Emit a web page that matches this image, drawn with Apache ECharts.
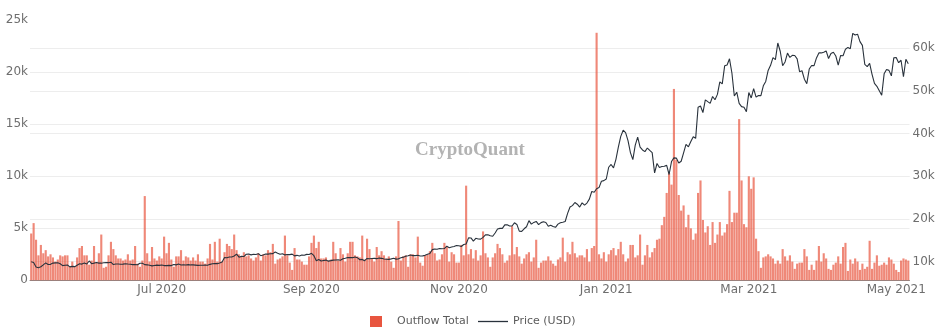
<!DOCTYPE html>
<html>
<head>
<meta charset="utf-8">
<script src="https://cdn.jsdelivr.net/npm/echarts@6/dist/echarts.min.js"></script>
<style>
  html, body { margin: 0; padding: 0; background: #ffffff; }
  #chart { width: 940px; height: 336px; }
</style>
</head>
<body>
<div id="chart"></div>
<script>
// Daily exchange outflow (thousands of BTC) and BTC price, 2020-05-08 .. 2021-05-06
const firstDay = [2020, 4, 8];   // year, month index, day
const dayCount = 364;

const tickDates  = ['2020-07-01', '2020-09-01', '2020-11-01', '2021-01-01', '2021-03-01', '2021-05-01'];
const tickLabels = ['Jul 2020', 'Sep 2020', 'Nov 2020', 'Jan 2021', 'Mar 2021', 'May 2021'];

// Outflow Total, in thousands
const outflowK = [
  // May 8 - Aug 6 2020
  4.5,5.5,3.9,2.4,3.4,2.6,2.9,2.3,2.5,2.2,
  1.8,2.0,2.4,2.3,2.4,2.4,1.3,1.8,1.3,2.2,
  3.1,3.3,2.4,2.4,1.5,1.9,3.3,1.7,2.6,4.4,
  1.2,1.3,2.4,3.7,3.0,2.4,2.1,2.1,1.9,2.0,
  2.5,1.9,2.0,3.3,1.6,1.3,1.9,8.1,2.6,1.8,
  3.2,2.1,1.9,2.3,2.1,4.2,2.6,3.6,2.0,1.3,
  2.3,2.3,2.9,1.9,2.3,2.2,1.9,2.2,1.9,2.5,
  1.8,1.8,1.6,2.1,3.5,2.0,3.7,1.8,4.0,1.8,
  2.7,3.5,3.3,3.0,4.4,2.9,2.5,2.3,2.7,2.3,
  2.4,
  // Aug 7 - Nov 4 2020
  2.1,1.9,2.2,2.6,1.9,2.5,2.4,2.9,2.7,3.5,
  1.6,2.0,2.1,2.3,4.3,2.4,1.7,1.0,3.1,2.0,
  2.0,1.8,1.5,1.5,2.3,3.6,4.3,3.1,3.7,2.1,
  2.1,2.2,1.9,2.0,3.7,2.6,1.9,3.1,2.5,1.8,
  2.6,3.7,3.7,2.4,2.3,2.2,4.3,2.0,4.0,3.0,
  2.1,1.8,3.2,2.4,2.8,2.4,2.1,2.3,1.8,1.2,
  2.3,5.7,1.9,2.3,2.4,1.3,2.5,2.5,2.2,4.2,
  1.7,1.4,2.4,2.5,2.8,3.6,2.6,1.9,2.0,2.5,
  3.6,3.2,1.8,2.7,2.5,1.7,1.7,3.4,2.4,
  9.1,
  // Nov 5 - Dec 28 2020
  2.5,3.0,2.1,2.9,1.9,2.4,4.7,2.6,2.2,1.3,
  2.2,2.6,3.5,3.1,2.5,1.7,1.9,2.4,5.2,2.5,
  3.2,2.3,1.6,2.1,2.5,2.7,1.8,2.2,3.9,1.2,
  1.7,1.9,1.9,2.3,1.9,1.6,1.4,2.0,2.2,4.1,
  1.8,2.7,2.5,3.7,2.6,2.2,2.4,2.4,2.2,3.0,
  1.8,3.1,3.3,
  23.8,
  // Dec 29 2020 - Feb 3 2021
  2.5,2.1,2.7,1.8,2.5,2.9,3.1,2.4,3.0,3.7,
  2.5,1.8,2.1,3.4,3.4,2.2,2.4,4.4,1.5,2.4,
  3.4,2.2,2.7,3.1,3.9,4.0,5.3,6.1,8.4,10.3,
  9.2,
  18.4,
  11.6,8.2,6.7,7.2,5.1,
  // Feb 4 - May 6 2021
  6.3,5.0,3.9,4.5,8.4,9.6,5.8,4.6,5.2,3.4,
  5.6,3.6,4.4,5.6,4.3,4.6,5.4,8.6,5.6,6.5,
  6.5,15.5,9.6,5.4,5.1,10.0,8.8,9.9,4.0,2.8,
  1.2,2.2,2.3,2.5,2.3,2.1,1.6,1.9,1.6,3.0,
  2.3,1.9,2.4,1.8,1.1,1.6,1.7,1.7,3.0,2.3,
  1.0,1.5,1.0,1.9,3.3,1.8,2.6,2.1,1.1,1.0,
  1.5,1.7,2.3,1.6,3.2,3.6,0.9,2.0,1.6,2.1,
  1.8,1.0,1.6,1.1,1.3,3.8,1.1,1.7,2.4,1.4,
  1.5,1.7,1.5,2.2,2.0,1.6,1.0,0.8,1.9,2.1,
  2.0,1.9
];

// Price (USD), daily
const priceUsd = [
  // May 2020 (from the 8th)
  9986,9805,8757,8601,8804,9269,9734,9329,9378,9671,9727,9730,9523,9081,9182,9210,8790,8907,8835,9181,9525,9439,9700,9461,
  // Jun 2020
  10167,9529,9657,9800,9665,9653,9759,9772,9770,9877,9322,9474,9465,9385,9427,9524,9463,9406,9319,9359,9300,9649,9629,9314,9264,9163,9014,9117,9185,9137,
  // Jul 2020
  9228,9087,9070,9132,9087,9347,9257,9436,9232,9289,9235,9303,9243,9244,9190,9132,9151,9160,9185,9164,9375,9525,9581,9536,9677,9905,10990,10912,11100,11112,11323,
  // Aug 2020
  11759,11054,11246,11205,11747,11779,11601,11754,11675,11878,11410,11584,11784,11768,11865,11892,12254,11991,11758,11878,11592,11681,11664,11774,11366,11488,11323,11542,11507,11711,11680,
  // Sep 2020
  11970,11414,10245,10511,10169,10281,10370,10131,10242,10363,10400,10443,10323,10680,10796,10974,10948,10944,11094,10938,10462,10538,10246,10760,10692,10750,10776,10709,10844,10784,
  // Oct 2020
  10620,10570,10542,10666,10793,10604,10668,10916,11064,11296,11384,11555,11426,11430,11505,11323,11359,11483,11742,11917,12823,12965,12931,13108,13031,13075,13654,13271,13438,13546,13781,
  // Nov 2020
  13737,13550,14028,14133,15579,15565,14833,15479,15332,15290,15701,16276,16317,16069,15955,16716,17645,17804,17817,18621,18642,18370,18364,19107,18732,17150,17108,17717,18177,19625,
  // Dec 2020
  18802,19201,19445,18699,19154,19345,19191,18321,18553,18264,18058,18803,19142,19246,19417,21310,22805,23137,23869,23477,22803,23783,23241,23735,24664,26437,26272,27084,27362,28840,29001,
  // Jan 2021
  29374,32127,32782,31971,33992,36824,39371,40797,40254,38356,35566,33922,37316,39187,36825,36178,35791,36630,36069,35547,30825,33005,32067,32289,32366,32569,30432,33466,34316,34269,33114,
  // Feb 2021
  33537,35510,37472,36926,38144,39266,38903,46196,46481,44918,47909,47504,47105,48717,47945,49199,52149,51679,55888,56099,57539,54207,48824,49705,47093,46339,46188,45137,
  // Mar 2021
  49631,48378,50538,48561,48927,48913,51206,52246,54824,56008,57805,57332,61243,59302,55907,56804,58870,57858,58346,58313,57523,54529,54738,52775,51705,55137,55974,55948,57750,58918,58918,
  // Apr 2021
  59095,59384,57603,58759,59057,58192,56048,58323,58245,59793,60204,59893,63504,63109,63315,61572,60683,56216,55724,56473,53906,51762,51093,50050,49004,54021,55033,54824,53555,57750,
  // May 2021 (to the 6th)
  57828,56631,57200,53333,57424,56396
];

// one category per day
const dates = [];
for (let i = 0; i < dayCount; i++) {
  const d = new Date(Date.UTC(firstDay[0], firstDay[1], firstDay[2] + i));
  dates.push(d.toISOString().slice(0, 10));
}

const FONT = 'DejaVu Sans';
const labelColor = '#6e6e6e';
const gridColor = '#ededed';
const barColor = '#e8553f';
const lineColor = '#29323c';

const chart = echarts.init(document.getElementById('chart'), null, { renderer: 'canvas' });

chart.setOption({
  animation: false,
  backgroundColor: '#ffffff',
  grid: { left: 30, right: 30.5, top: 20.3, bottom: 55.7, containLabel: false },
  graphic: [{
    type: 'text',
    left: 415,
    top: 141,
    z: 0,
    style: {
      text: 'CryptoQuant',
      font: 'bold 19px "Liberation Serif"',
      fill: '#b3b3b3'
    }
  }],
  legend: [
    {
      data: [{ name: 'Outflow Total', icon: 'rect', itemStyle: { color: barColor, opacity: 1 } }],
      left: 370, top: 316, padding: 0,
      itemWidth: 12, itemHeight: 11,
      textStyle: { color: '#5b5b5b', fontSize: 11, fontFamily: FONT, padding: [0, 0, 0, 10] }
    },
    {
      data: [{ name: 'Price (USD)', icon: 'rect', itemStyle: { color: lineColor } }],
      left: 478, top: 316, padding: 0,
      itemWidth: 30, itemHeight: 1.3,
      textStyle: { color: '#5b5b5b', fontSize: 11, fontFamily: FONT }
    }
  ],
  xAxis: {
    type: 'category',
    data: dates,
    boundaryGap: true,
    axisTick: { show: false },
    axisLine: { show: true, lineStyle: { color: '#8a8a8a', width: 1 } },
    splitLine: { show: false },
    axisLabel: {
      interval: (idx, val) => tickDates.includes(val),
      formatter: (val) => tickLabels[tickDates.indexOf(val)],
      color: labelColor, fontSize: 12, fontFamily: FONT, margin: 4
    }
  },
  yAxis: [
    {
      type: 'value',
      min: 0, max: 25, interval: 5,
      position: 'left',
      axisLine: { show: false },
      axisTick: { show: false },
      axisLabel: {
        formatter: (v) => (v === 0 ? '0' : v + 'k'),
        color: labelColor, fontSize: 12, fontFamily: FONT, margin: 2
      },
      splitLine: { show: true, showMaxLine: false, lineStyle: { color: gridColor, width: 1 } }
    },
    {
      type: 'value',
      min: 5640, max: 66560,
      position: 'right',
      axisLine: { show: false },
      axisTick: { show: false },
      axisLabel: {
        showMinLabel: false, showMaxLabel: false,
        formatter: (v) => (v / 1000) + 'k',
        color: labelColor, fontSize: 12, fontFamily: FONT, margin: 3
      },
      splitLine: { show: true, showMinLine: false, showMaxLine: false, lineStyle: { color: gridColor, width: 1 } }
    }
  ],
  series: [
    {
      name: 'Outflow Total',
      type: 'bar',
      data: outflowK,
      yAxisIndex: 0,
      barWidth: '88%',
      itemStyle: { color: barColor, opacity: 0.7 },
      emphasis: { disabled: true },
      z: 2
    },
    {
      name: 'Price (USD)',
      type: 'line',
      data: priceUsd,
      yAxisIndex: 1,
      symbol: 'none',
      showSymbol: false,
      lineStyle: { color: lineColor, width: 1.1 },
      itemStyle: { color: lineColor },
      emphasis: { disabled: true },
      z: 3
    }
  ]
});
</script>
</body>
</html>
